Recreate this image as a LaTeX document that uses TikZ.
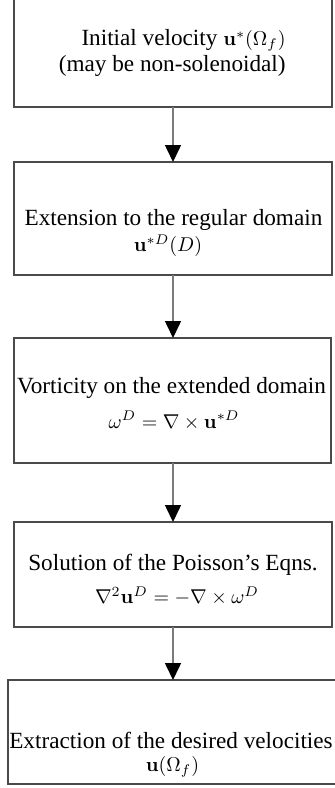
\documentclass[tikz,border=0pt]{standalone}
\usepackage[no-math]{fontspec}
\setmainfont{Liberation Serif}
\usetikzlibrary{arrows.meta}
\definecolor{boxline}{HTML}{4A4A4A}
\definecolor{shaft}{HTML}{7A7A7A}
\newcommand{\mtxt}[1]{{\fontsize{9.8}{11}\selectfont$#1$}}
\tikzset{
  box/.style={draw=boxline, line width=0.75pt, rectangle, inner sep=0pt, outer sep=0pt},
  txt/.style={inner sep=0pt, font=\fontsize{11.6}{13}\selectfont, text=black},
  flow/.style={draw=shaft, line width=0.8pt,
    -{Triangle[color=black, width=8pt, length=8.5pt]}, shorten >=0pt}
}
\begin{document}
\begin{tikzpicture}[x=0.5pt, y=-0.5pt]
  \useasboundingbox (0,0) rectangle (335,788);

  % process boxes
  \node[box, minimum width=159pt, minimum height=54.5pt] (b1) at (173,52.5) {};
  \node[box, minimum width=159pt, minimum height=56.5pt] (b2) at (173,218.5) {};
  \node[box, minimum width=158.5pt, minimum height=62.5pt] (b3) at (172.5,400.5) {};
  \node[box, minimum width=159pt, minimum height=52.5pt] (b4) at (173,574.5) {};
  \node[box, minimum width=165pt, minimum height=52pt] (b5) at (173,732) {};

  % box texts
  \node[txt, anchor=base east] (t1a) at (286,45.7) {Initial velocity \mtxt{\mathbf{u}^{*}(\Omega_f)}};
  \node[txt, anchor=base east] (t1b) at (286,71.7) {(may be non-solenoidal)};

  \node[txt, anchor=base] (t2a) at (173.5,225) {Extension to the regular domain};
  \node[txt, anchor=base] (t2b) at (168,251.5) {\mtxt{\mathbf{u}^{*D}(D)}};

  \node[txt, anchor=base] (t3a) at (171.5,393) {Vorticity on the extended domain};
  \node[txt, anchor=base] (t3b) at (174,428) {\mtxt{\omega^D=\nabla\times\mathbf{u}^{*D}}};

  \node[txt, anchor=base] (t4a) at (173,570.7) {Solution of the Poisson's Eqns.};
  \node[txt, anchor=base] (t4b) at (177,603.5) {\mtxt{\nabla^2\mathbf{u}^D=-\nabla\times\omega^D}};

  \node[txt, anchor=base] (t5a) at (171,748) {Extraction of the desired velocities};
  \node[txt, anchor=base] (t5b) at (172.5,771) {\mtxt{\mathbf{u}(\Omega_f)}};

  % connectors
  \draw[flow] (b1.south) -- (b1.south |- b2.north);
  \draw[flow] (b2.south) -- (b2.south |- b3.north);
  \draw[flow] (b2.south |- b3.south) -- (b2.south |- b4.north);
  \draw[flow] (b4.south) -- (b4.south |- b5.north);
\end{tikzpicture}
\end{document}
